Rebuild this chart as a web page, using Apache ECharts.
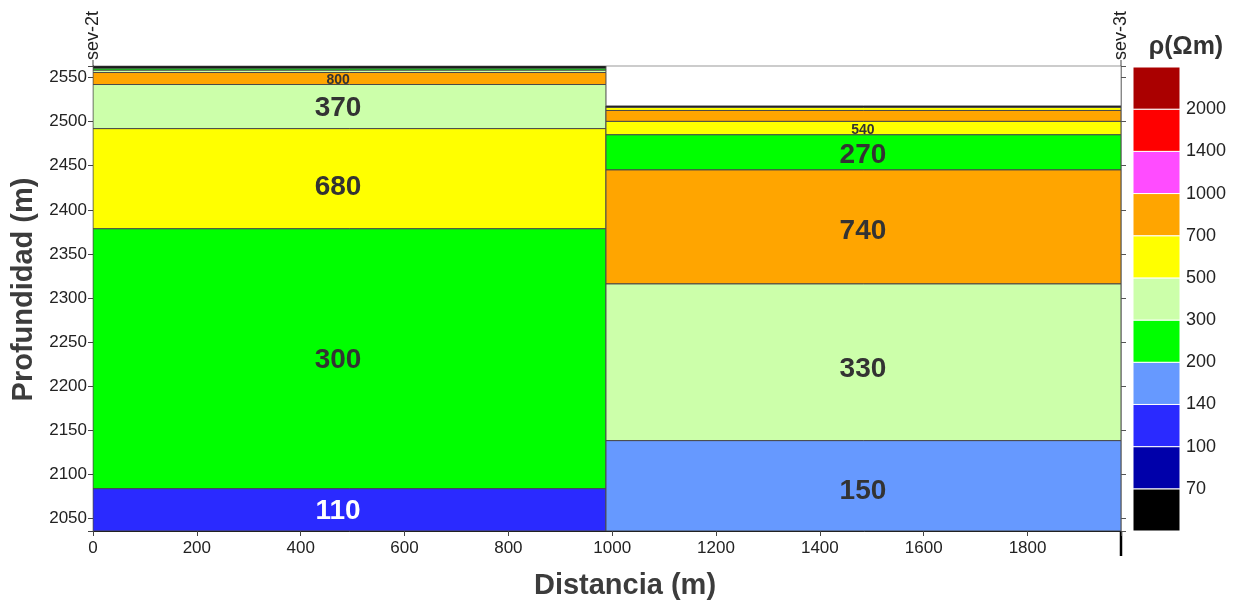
<!DOCTYPE html>
<html><head><meta charset="utf-8">
<script src="https://cdn.jsdelivr.net/npm/echarts@6/dist/echarts.min.js"></script>
<style>html,body{margin:0;padding:0;background:#fff}#c{width:1235px;height:603px}</style>
</head><body><div id="c"></div><script>
// ---- data ----
const xRange = [0, 1980];
const yRange = [2036, 2563];
const columnBounds = [[0, 988], [988, 1980]];
const columnLabelX = [472, 1483];
const wellNames = ['sev-2t', 'sev-3t'];

// left sounding (sev-2t): layer tops (m) and bottom of the last layer
const leftTops       = [2563, 2560.4, 2558.2, 2555.6, 2542, 2492, 2378.5, 2084];
const leftBottom     = 2036;
const leftRho        = [60, 250, 400, 800, 370, 680, 300, 110];
const leftLabels     = ['', '', '', '800', '370', '680', '300', '110'];
const leftLabelDepth = [null, null, null, 2547.5, 2515.5, 2426, 2230, 2058];

// right sounding (sev-3t)
const rightTops       = [2517.7, 2516, 2512.6, 2500.2, 2485, 2445.2, 2316, 2138.4];
const rightBottom     = 2036;
const rightRho        = [60, 600, 800, 540, 270, 740, 330, 150];
const rightLabels     = ['', '', '', '540', '270', '740', '330', '150'];
const rightLabelDepth = [null, null, null, 2490.5, 2462, 2376, 2219, 2081];

// resistivity classes
const rhoBreaks = [70, 100, 140, 200, 300, 500, 700, 1000, 1400, 2000];
const rhoColors = ['#000000', '#0000aa', '#2a2aff', '#6699ff', '#00ff00', '#ccffaa',
                   '#ffff00', '#ffa500', '#ff4cff', '#ff0000', '#aa0000'];
const darkClasses = [0, 1, 2];

function classOf(v) { let k = 0; rhoBreaks.forEach(b => { if (v > b) k++; }); return k; }

function buildLayers(col, tops, bottom, rho, labels, depths) {
  return tops.map((t, i) => {
    const b = i + 1 < tops.length ? tops[i + 1] : bottom;
    return [columnBounds[col][0], columnBounds[col][1], t, b, classOf(rho[i]), labels[i],
            columnLabelX[col], depths[i] == null ? (t + b) / 2 : depths[i]];
  });
}
const layerData = buildLayers(0, leftTops, leftBottom, leftRho, leftLabels, leftLabelDepth)
  .concat(buildLayers(1, rightTops, rightBottom, rightRho, rightLabels, rightLabelDepth));
const legendData = rhoColors.map((c, i) => [i, i + 1, i]);

const chart = echarts.init(document.getElementById('c'), null, {renderer: 'canvas'});
const FONT = '"Liberation Sans", Arial, sans-serif';

function renderLayer(params, api) {
  const x0 = api.value(0), x1 = api.value(1), top = api.value(2), bot = api.value(3);
  const cls = api.value(4), label = api.value(5), lx = api.value(6), ly = api.value(7);
  const p0 = api.coord([x0, top]), p1 = api.coord([x1, bot]);
  const h = p1[1] - p0[1];
  const children = [{
    type: 'rect',
    shape: {x: p0[0], y: p0[1], width: p1[0] - p0[0], height: h},
    style: {fill: rhoColors[cls], stroke: '#4a4a4a', lineWidth: 1}
  }];
  if (label) {
    const big = h > 25;
    const lp = api.coord([lx, ly]);
    children.push({
      type: 'text',
      x: lp[0], y: lp[1],
      style: {
        text: String(label), align: 'center', verticalAlign: 'middle',
        font: (big ? 'bold 28px ' : 'bold 14px ') + FONT,
        fill: darkClasses.indexOf(cls) >= 0 ? '#ffffff' : '#333333'
      }
    });
  }
  return {type: 'group', children: children};
}

function renderLegend(params, api) {
  const p0 = api.coord([0, api.value(1)]), p1 = api.coord([1, api.value(0)]);
  return {
    type: 'rect',
    shape: {x: p0[0], y: p0[1], width: p1[0] - p0[0], height: p1[1] - p0[1]},
    style: {fill: rhoColors[api.value(2)], stroke: '#ffffff', lineWidth: 1}
  };
}

const option = {
  backgroundColor: '#fff',
  animation: false,
  textStyle: {fontFamily: FONT},
  grid: [
    {left: 93, right: 114, top: 66, bottom: 72, show: true, borderColor: '#999', borderWidth: 1,
     backgroundColor: '#fff', containLabel: false, outerBoundsMode: 'none'},
    {left: 1133, width: 47, top: 67, height: 464, containLabel: false, outerBoundsMode: 'none'}
  ],
  xAxis: [
    {type: 'value', gridIndex: 0, min: xRange[0], max: xRange[1], interval: 200,
     axisLine: {show: true, lineStyle: {color: '#222', width: 1}},
     axisTick: {show: true, length: 5, lineStyle: {color: '#444'}},
     axisLabel: {color: '#222', fontSize: 17, margin: 9, fontFamily: FONT,
       formatter: v => (v % 200 === 0 && v < xRange[1]) ? String(v) : ''},
     splitLine: {show: false},
     name: 'Distancia (m)', nameLocation: 'middle', nameGap: 40,
     nameTextStyle: {fontSize: 29, fontWeight: 'bold', color: '#3c3c3c', fontFamily: FONT,
       padding: [0, 0, 0, 36]}},
    {type: 'value', gridIndex: 1, min: 0, max: 1, show: false}
  ],
  yAxis: [
    {type: 'value', gridIndex: 0, min: yRange[0], max: yRange[1], splitNumber: 10,
     axisLine: {show: true, lineStyle: {color: '#222', width: 1}},
     axisTick: {show: true, length: 5, lineStyle: {color: '#444'}},
     axisLabel: {color: '#222', fontSize: 17, margin: 6, fontFamily: FONT,
       formatter: v => (v % 50 === 0) ? String(v) : ''},
     splitLine: {show: false},
     name: 'Profundidad (m)', nameLocation: 'middle', nameGap: 53, nameRotate: 90,
     nameTextStyle: {fontSize: 29, fontWeight: 'bold', color: '#3c3c3c', fontFamily: FONT,
       padding: [0, 0, 0, 18]}},
    {type: 'value', gridIndex: 0, position: 'right', min: yRange[0], max: yRange[1], splitNumber: 10,
     axisLine: {show: true, lineStyle: {color: '#888', width: 1}},
     axisTick: {show: true, length: 5, lineStyle: {color: '#555'}},
     axisLabel: {show: false}, splitLine: {show: false}},
    {type: 'value', gridIndex: 1, position: 'right', min: 0, max: 11, interval: 1,
     axisLine: {show: false}, axisTick: {show: false}, splitLine: {show: false},
     axisLabel: {color: '#222', fontSize: 18, margin: 6, fontFamily: FONT, align: 'left',
       formatter: v => (v >= 1 && v <= 10) ? String(rhoBreaks[v - 1]) : ''}}
  ],
  series: [
    {type: 'custom', xAxisIndex: 0, yAxisIndex: 0, renderItem: renderLayer,
     data: layerData, encode: {x: [0, 1], y: [2, 3]}, clip: true, z: 2},
    {type: 'custom', xAxisIndex: 1, yAxisIndex: 2, renderItem: renderLegend,
     data: legendData, encode: {y: [0, 1]}, z: 2}
  ],
  graphic: [
    {type: 'text', x: 1186, y: 47, style: {text: 'ρ(Ωm)', font: 'bold 25px ' + FONT, fill: '#333', align: 'center', verticalAlign: 'middle'}},
    {type: 'text', x: 93, y: 60, rotation: Math.PI / 2, style: {text: wellNames[0], font: '18px ' + FONT, fill: '#222', align: 'left', verticalAlign: 'middle'}},
    {type: 'text', x: 1121, y: 60, rotation: Math.PI / 2, style: {text: wellNames[1], font: '18px ' + FONT, fill: '#222', align: 'left', verticalAlign: 'middle'}},
    {type: 'line', shape: {x1: 93, y1: 60, x2: 93, y2: 66}, style: {stroke: '#444', lineWidth: 1}},
    {type: 'line', shape: {x1: 1121, y1: 60, x2: 1121, y2: 66}, style: {stroke: '#444', lineWidth: 1}},
    {type: 'line', shape: {x1: 1121, y1: 531, x2: 1121, y2: 556}, style: {stroke: '#000', lineWidth: 2.5}}
  ]
};
chart.setOption(option);
</script></body></html>
